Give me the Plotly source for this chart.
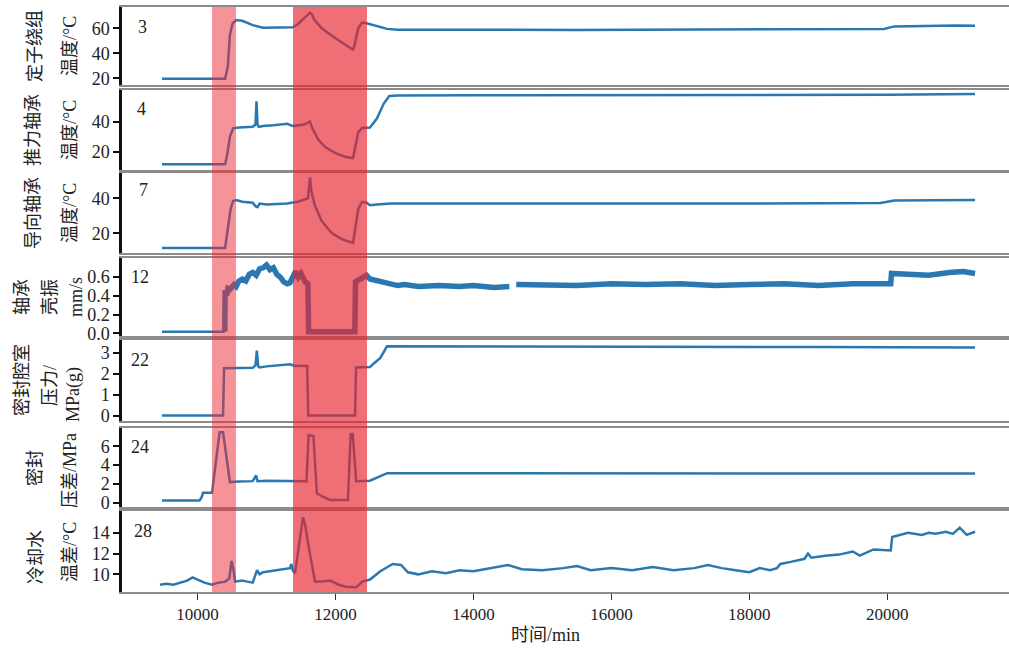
import plotly.graph_objects as go

# ---------------- data ----------------
stator_t = [9485, 10400, 10440, 10470, 10510, 10560, 10650, 10800, 10950, 11100, 11380, 11450, 11560, 11630, 11660, 11690, 11800, 12000, 12250, 12270, 12330, 12385, 12450, 12600, 12750, 12900, 13500, 14500, 15500, 16500, 17500, 18500, 19500, 19950, 20100, 20500, 21000, 21272]
stator_v = [19.5, 19.5, 30, 55, 64, 66.5, 66, 62.5, 60.5, 60.5, 60.8, 63, 69, 72.5, 71, 67, 60, 52, 43, 45, 60, 64.5, 64, 62, 59.5, 58.8, 58.6, 58.8, 58.6, 58.8, 58.9, 59.0, 59.2, 59.5, 61.5, 62.0, 62.3, 62.0]

thrust_t = [9485, 10400, 10430, 10470, 10515, 10600, 10800, 10840, 10855, 10870, 10890, 10950, 11100, 11200, 11300, 11384, 11450, 11550, 11630, 11660, 11750, 11850, 12000, 12150, 12254, 12280, 12330, 12385, 12500, 12600, 12700, 12780, 12900, 14000, 16000, 18000, 20000, 21272]
thrust_v = [11.6, 11.6, 18, 30, 35.5, 36, 36.5, 38, 53.5, 38, 36.5, 37, 37.5, 38, 38.5, 37, 37.5, 38, 40, 36, 28, 23, 19, 16.5, 15.8, 22, 33, 35.8, 36, 42, 52, 57, 57.3, 57.5, 57.5, 57.6, 57.8, 58.3]

guide_t = [9485, 10400, 10430, 10480, 10515, 10560, 10650, 10800, 10840, 10870, 10900, 11000, 11300, 11450, 11560, 11600, 11631, 11650, 11700, 11800, 11950, 12100, 12254, 12280, 12330, 12385, 12450, 12500, 12600, 12800, 14000, 16000, 18000, 19900, 20100, 21272]
guide_v = [11.6, 11.6, 20, 34, 38.5, 39, 38, 37.5, 35.5, 35, 37, 36.5, 37, 38, 39.5, 40, 52, 44, 36, 27, 20, 16.5, 14.4, 22, 34, 38, 37.5, 36, 36.5, 37, 37, 36.8, 37.0, 37.3, 38.8, 39.0]

vib_base_t = [9485, 10395]
vib_base_v = [0.015, 0.015]
vib_t = [10395, 10400, 10420, 10440, 10470, 10500, 10530, 10560, 10600, 10650, 10700, 10750, 10800, 10850, 10900, 10950, 11000, 11050, 11100, 11150, 11200, 11250, 11300, 11341, 11380, 11420, 11460, 11500, 11560, 11600, 11610, 12280, 12290, 12330, 12400, 12450, 12500, 12600, 12700, 12800, 12900, 13000, 13200, 13500, 13800, 14000, 14300, 14520, 14560, 14620, 15000, 15500, 16000, 16500, 17000, 17500, 18000, 18500, 19000, 19500, 20050, 20060, 20300, 20600, 20900, 21100, 21272]
vib_v = [0.015, 0.46, 0.40, 0.48, 0.47, 0.50, 0.52, 0.50, 0.56, 0.58, 0.56, 0.63, 0.65, 0.62, 0.69, 0.70, 0.73, 0.68, 0.70, 0.63, 0.60, 0.55, 0.53, 0.54, 0.62, 0.66, 0.60, 0.64, 0.55, 0.53, 0.015, 0.015, 0.55, 0.57, 0.60, 0.62, 0.58, 0.56, 0.54, 0.52, 0.51, 0.52, 0.50, 0.51, 0.50, 0.51, 0.49, 0.50, None, 0.52, 0.52, 0.51, 0.53, 0.52, 0.53, 0.51, 0.52, 0.53, 0.51, 0.53, 0.53, 0.64, 0.63, 0.62, 0.65, 0.66, 0.64]

cavity_t = [9485, 10370, 10385, 10500, 10800, 10840, 10860, 10880, 10900, 11000, 11200, 11340, 11400, 11590, 11605, 12283, 12298, 12500, 12560, 12650, 12747, 13000, 15000, 17000, 19000, 21272]
cavity_v = [0.02, 0.02, 2.26, 2.27, 2.28, 2.4, 3.1, 2.35, 2.3, 2.35, 2.4, 2.45, 2.38, 2.37, 0.02, 0.02, 2.3, 2.32, 2.5, 2.75, 3.3, 3.3, 3.28, 3.27, 3.27, 3.25]

dp_t = [9485, 10030, 10060, 10080, 10210, 10260, 10320, 10370, 10470, 10600, 10800, 10850, 10870, 11000, 11300, 11580, 11610, 11680, 11730, 11800, 11920, 12180, 12220, 12250, 12300, 12500, 12750, 13000, 15000, 17000, 19000, 21272]
dp_v = [0.24, 0.24, 0.6, 1.07, 1.07, 4.0, 7.5, 7.5, 2.2, 2.25, 2.3, 2.9, 2.3, 2.35, 2.35, 2.3, 7.2, 7.1, 1.0, 0.7, 0.3, 0.3, 7.3, 7.3, 2.3, 2.35, 3.15, 3.15, 3.13, 3.12, 3.12, 3.1]

cool_t = [9456, 9550, 9650, 9750, 9850, 9928, 10000, 10100, 10210, 10300, 10400, 10460, 10493, 10520, 10545, 10650, 10720, 10800, 10863, 10900, 10950, 11050, 11150, 11250, 11341, 11360, 11380, 11413, 11480, 11529, 11560, 11602, 11703, 11800, 11921, 12050, 12150, 12300, 12390, 12500, 12650, 12830, 12950, 13050, 13200, 13400, 13600, 13800, 14000, 14300, 14500, 14700, 15000, 15300, 15500, 15700, 16000, 16300, 16600, 16900, 17200, 17400, 17600, 17800, 18000, 18150, 18300, 18400, 18450, 18600, 18800, 18850, 18900, 19100, 19300, 19500, 19600, 19800, 20050, 20070, 20300, 20500, 20600, 20700, 20850, 20950, 21050, 21150, 21272]
cool_v = [9.0, 9.1, 9.0, 9.2, 9.4, 9.7, 9.5, 9.2, 9.0, 9.2, 9.3, 9.6, 11.3, 10.5, 9.3, 9.4, 9.3, 9.2, 10.4, 10.0, 10.2, 10.3, 10.4, 10.5, 10.6, 11.0, 10.4, 10.1, 13.0, 15.5, 14.8, 13.0, 9.3, 9.3, 9.4, 9.0, 8.8, 8.75, 9.3, 9.5, 10.3, 11.0, 10.9, 10.2, 10.0, 10.3, 10.1, 10.4, 10.3, 10.7, 10.9, 10.5, 10.4, 10.6, 10.8, 10.4, 10.6, 10.4, 10.7, 10.4, 10.6, 10.9, 10.6, 10.4, 10.2, 10.6, 10.4, 10.6, 11.0, 11.2, 11.5, 12.0, 11.6, 11.8, 11.9, 12.2, 11.8, 12.4, 12.3, 13.6, 14.0, 13.8, 14.0, 13.9, 14.1, 13.9, 14.5, 13.8, 14.1]

series_t = [stator_t, thrust_t, guide_t, vib_t, cavity_t, dp_t, cool_t]
series_v = [stator_v, thrust_v, guide_v, vib_v, cavity_v, dp_v, cool_v]
panel_ids = ["3", "4", "7", "12", "22", "24", "28"]
y_titles = [["定子绕组", "温度/°C"], ["推力轴承", "温度/°C"], ["导向轴承", "温度/°C"],
            ["轴承", "壳振", "mm/s"], ["密封腔室", "压力/", "MPa(g)"], ["密封", "压差/MPa"],
            ["冷却水", "温差/°C"]]
y_ranges = [[14.6, 77], [7.8, 61], [8.7, 54.5], [-0.03, 0.805], [-0.24, 3.6], [-0.45, 7.95], [8.3, 16.1]]
y_ticks = [[20, 40, 60], [20, 40], [20, 40], [0.0, 0.2, 0.4, 0.6], [0, 1, 2, 3], [0, 2, 4, 6], [10, 12, 14]]
y_ticktext = [["20", "40", "60"], ["20", "40"], ["20", "40"], ["0.0", "0.2", "0.4", "0.6"],
              ["0", "1", "2", "3"], ["0", "2", "4", "6"], ["10", "12", "14"]]
x_ticks = [10000, 12000, 14000, 16000, 18000, 20000]
x_ticktext = ["10000", "12000", "14000", "16000", "18000", "20000"]
x_range = [8905, 21764]
light_band = [10210, 10558]
dark_band = [11384, 12457]

# ---------------- layout constants ----------------
W, H = 1009, 649
ML, MR, MT, MB = 122, 0, 7, 57
PW, PH = W - ML - MR, H - MT - MB
panel_px = [(7, 85), (90, 170), (173, 253), (258, 336), (340, 421), (428, 507), (511, 592)]
title_px = [[(35, 46), (70, 46)], [(33, 130), (70, 130)], [(33, 213), (70, 213)],
            [(22, 297), (50, 297), (76, 297)], [(22, 380), (50, 386), (73, 395)],
            [(35, 468), (70, 471)], [(36, 557), (70, 552)]]
id_px = [(142, 27), (141, 109), (143, 190), (140, 277), (140, 360), (140, 447), (143, 531)]

def px2x(px):
    return (px - ML) / PW

def px2y(py):
    return (H - MB - py) / PH

SERIF = "'Liberation Serif', 'Noto Sans CJK SC', serif"
BLUE = "#2a78b2"
TXT = "#222"

fig = go.Figure()
annotations = []
layout = dict(width=W, height=H, margin=dict(l=ML, r=MR, t=MT, b=MB),
              paper_bgcolor="white", plot_bgcolor="white", showlegend=False,
              font=dict(family=SERIF, size=16, color=TXT))

# thin baseline of vibration before start-up
fig.add_trace(go.Scatter(x=vib_base_t, y=vib_base_v, mode="lines",
                         line=dict(color=BLUE, width=2.5), xaxis="x4", yaxis="y4", hoverinfo="skip"))

n = len(series_t)
for i in range(n):
    k = "" if i == 0 else str(i + 1)
    lw = 5.5 if i == 3 else 2.5
    fig.add_trace(go.Scatter(x=series_t[i], y=series_v[i], mode="lines",
                             line=dict(color=BLUE, width=lw), connectgaps=False,
                             xaxis="x" + k, yaxis="y" + k, hoverinfo="skip"))
    top, bot = panel_px[i]
    last = (i == n - 1)
    layout["xaxis" + k] = dict(domain=[0, 1], range=x_range, anchor="y" + k,
                               showgrid=False, zeroline=False, showline=True, mirror=True,
                               linecolor="#8c8c8c", linewidth=1.6,
                               tickmode="array", tickvals=x_ticks, ticktext=x_ticktext,
                               ticks="outside" if last else "",
                               ticklen=6, tickcolor="#333", tickwidth=1,
                               showticklabels=last, tickfont=dict(family=SERIF, size=17, color=TXT),
                               **({} if i == 0 else dict(matches="x")))
    layout["yaxis" + k] = dict(domain=[px2y(bot), px2y(top)], range=y_ranges[i], anchor="x" + k,
                               showgrid=False, zeroline=False, showline=True, mirror=False,
                               linecolor="#111", linewidth=2.5,
                               tickmode="array", tickvals=y_ticks[i], ticktext=y_ticktext[i],
                               ticks="outside", ticklen=6, tickwidth=1.5, tickcolor="#111",
                               tickfont=dict(family=SERIF, size=18, color=TXT))
    for txt, (tx, ty) in zip(y_titles[i], title_px[i]):
        annotations.append(dict(text=txt, xref="paper", yref="paper", x=px2x(tx), y=px2y(ty),
                                xanchor="center", yanchor="middle", textangle=-90, showarrow=False,
                                font=dict(family=SERIF, size=18, color=TXT)))
    ix, iy = id_px[i]
    annotations.append(dict(text=panel_ids[i], xref="paper", yref="paper", x=px2x(ix), y=px2y(iy),
                            xanchor="center", yanchor="middle", showarrow=False,
                            font=dict(family=SERIF, size=18, color=TXT)))

annotations.append(dict(text="时间/min", xref="paper", yref="paper", x=px2x(545), y=px2y(635),
                        xanchor="center", yanchor="middle", showarrow=False,
                        font=dict(family=SERIF, size=18, color=TXT)))

layout["annotations"] = annotations
layout["shapes"] = [
    dict(type="rect", xref="x7", yref="paper", x0=light_band[0], x1=light_band[1], y0=0, y1=1,
         fillcolor="rgba(235,40,50,0.5)", line=dict(width=0), layer="above"),
    dict(type="rect", xref="x7", yref="paper", x0=dark_band[0], x1=dark_band[1], y0=0, y1=1,
         fillcolor="rgba(232,35,45,0.66)", line=dict(width=0), layer="above"),
]
fig.update_layout(**layout)
fig.write_html("out.html")
